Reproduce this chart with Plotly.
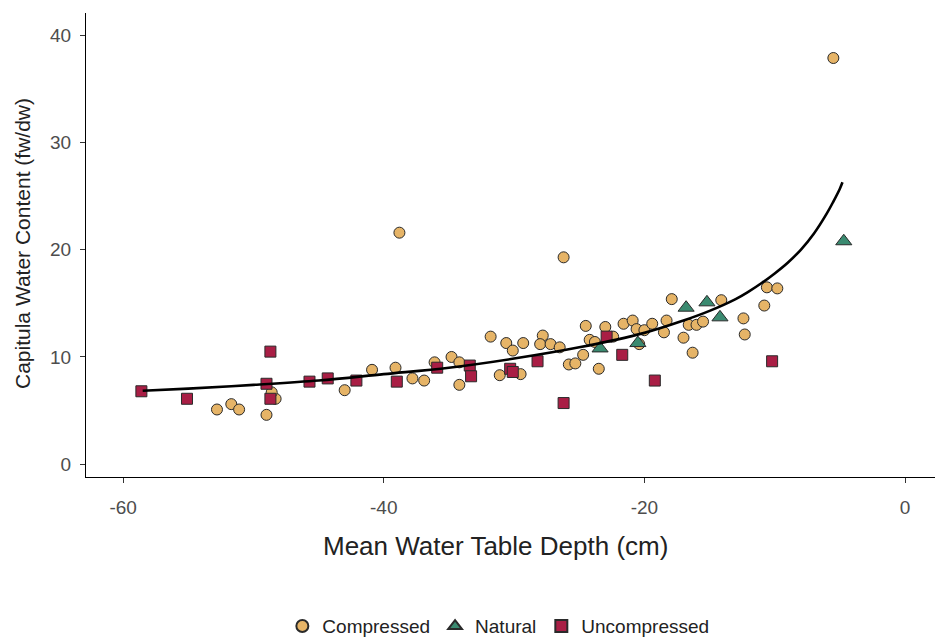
import plotly.graph_objects as go

# Capitula water content vs mean water table depth, by site treatment
comp_x = [-52.8, -51.7, -51.1, -49.0, -48.3, -48.6, -43.0, -40.9, -39.1, -37.8,
          -36.9, -36.1, -34.8, -34.2, -34.2, -31.8, -30.6, -30.1, -31.1, -29.3,
          -29.5, -27.8, -28.0, -27.2, -26.5, -25.8, -25.3, -24.7, -24.5, -24.2,
          -23.8, -23.5, -23.0, -22.4, -21.6, -20.9, -20.6, -20.4, -20.0, -19.4,
          -18.3, -18.5, -17.9, -17.0, -16.3, -16.6, -16.0, -15.5, -14.1, -10.6,
          -9.8, -10.8, -12.4, -12.3, -38.8, -26.2, -5.5]
comp_y = [5.1, 5.6, 5.1, 4.6, 6.1, 6.7, 6.9, 8.8, 9.0, 8.0,
          7.8, 9.5, 10.0, 9.5, 7.4, 11.9, 11.3, 10.6, 8.3, 11.3,
          8.4, 12.0, 11.2, 11.2, 10.9, 9.3, 9.4, 10.2, 12.9, 11.6,
          11.4, 8.9, 12.8, 11.9, 13.1, 13.4, 12.6, 11.2, 12.5, 13.1,
          13.4, 12.3, 15.4, 11.8, 10.4, 13.0, 13.0, 13.3, 15.3, 16.5,
          16.4, 14.8, 13.6, 12.1, 21.6, 19.3, 37.9]

nat_x = [-23.4, -20.5, -16.8, -15.2, -14.2, -4.7]
nat_y = [10.8, 11.3, 14.6, 15.1, 13.7, 20.8]

unc_x = [-58.6, -55.1, -48.7, -49.0, -48.7, -45.7, -44.3, -42.1, -39.0, -35.9,
         -33.4, -33.3, -30.3, -30.1, -28.2, -26.2, -22.9, -21.7, -19.2, -10.2]
unc_y = [6.8, 6.1, 10.5, 7.5, 6.1, 7.7, 8.0, 7.8, 7.7, 9.0,
         9.2, 8.2, 8.9, 8.6, 9.6, 5.7, 11.9, 10.2, 7.8, 9.6]

# fitted trend line
fit_x = [-58.5, -55, -50, -45, -40, -35, -30, -25, -20, -17, -15, -13, -12, -11,
         -10, -9, -8, -7, -6, -5.5, -5.0, -4.8]
fit_y = [6.85, 7.05, 7.4, 7.8, 8.4, 9.0, 9.85, 10.9, 12.25, 13.4, 14.3, 15.4, 16.1, 16.9,
         17.8, 18.8, 20.0, 21.5, 23.4, 24.5, 25.7, 26.3]

x_ticks = [-60, -40, -20, 0]
x_tick_text = ["-60", "-40", "-20", "0"]
y_ticks = [0, 10, 20, 30, 40]

COL_COMP = "#E6B467"
COL_NAT = "#3A8A70"
COL_UNC = "#A91E45"
EDGE = "#2a2a2a"
FONT = "Liberation Sans, Arial, sans-serif"

fig = go.Figure()

fig.add_trace(go.Scatter(
    x=comp_x, y=comp_y, mode="markers", name="Compressed",
    marker=dict(symbol="circle", size=11, color=COL_COMP,
                line=dict(color=EDGE, width=1)),
))
fig.add_trace(go.Scatter(
    x=nat_x, y=nat_y, mode="markers", name="Natural",
    marker=dict(symbol="triangle-up", size=14, color=COL_NAT,
                line=dict(color=EDGE, width=1)),
))
fig.add_trace(go.Scatter(
    x=unc_x, y=unc_y, mode="markers", name="Uncompressed",
    marker=dict(symbol="square", size=11, color=COL_UNC,
                line=dict(color=EDGE, width=1)),
))
fig.add_trace(go.Scatter(
    x=fit_x, y=fit_y, mode="lines", showlegend=False, hoverinfo="skip",
    line=dict(color="black", width=2.6, shape="spline", smoothing=1.0),
))

axis_common = dict(
    showgrid=False, zeroline=False, showline=True, linecolor="black", linewidth=1.2,
    ticks="outside", ticklen=5, tickcolor="#333333", tickwidth=1,
    tickfont=dict(family=FONT, size=19, color="#4d4d4d"),
)

fig.update_layout(
    width=935, height=639,
    margin=dict(l=86, r=0, t=13, b=162),
    paper_bgcolor="white", plot_bgcolor="white",
    font=dict(family=FONT),
    xaxis=dict(range=[-62.85, 2.3], tickvals=x_ticks, ticktext=x_tick_text,
               ticklabelstandoff=8, **axis_common),
    yaxis=dict(range=[-1.2, 42.1], tickvals=y_ticks, ticklabelstandoff=5,
               **axis_common),
    legend=dict(
        orientation="h", xref="container", yref="container",
        x=0.533, xanchor="center", y=0.02, yanchor="middle",
        font=dict(family=FONT, size=19, color="#222222"),
        itemsizing="constant", itemwidth=30,
    ),
    annotations=[
        dict(text="Mean Water Table Depth (cm)", xref="paper", yref="paper",
             x=(495 - 86) / 849, y=(477 - 546) / 464, xanchor="center", yanchor="middle",
             showarrow=False, font=dict(family=FONT, size=26, color="#222222")),
        dict(text="Capitula Water Content (fw/dw)", xref="paper", yref="paper",
             x=(23 - 86) / 849, y=(477 - 244) / 464, xanchor="center", yanchor="middle",
             textangle=-90, showarrow=False,
             font=dict(family=FONT, size=21, color="#222222")),
    ],
    showlegend=True,
)

fig.write_html("out.html")
